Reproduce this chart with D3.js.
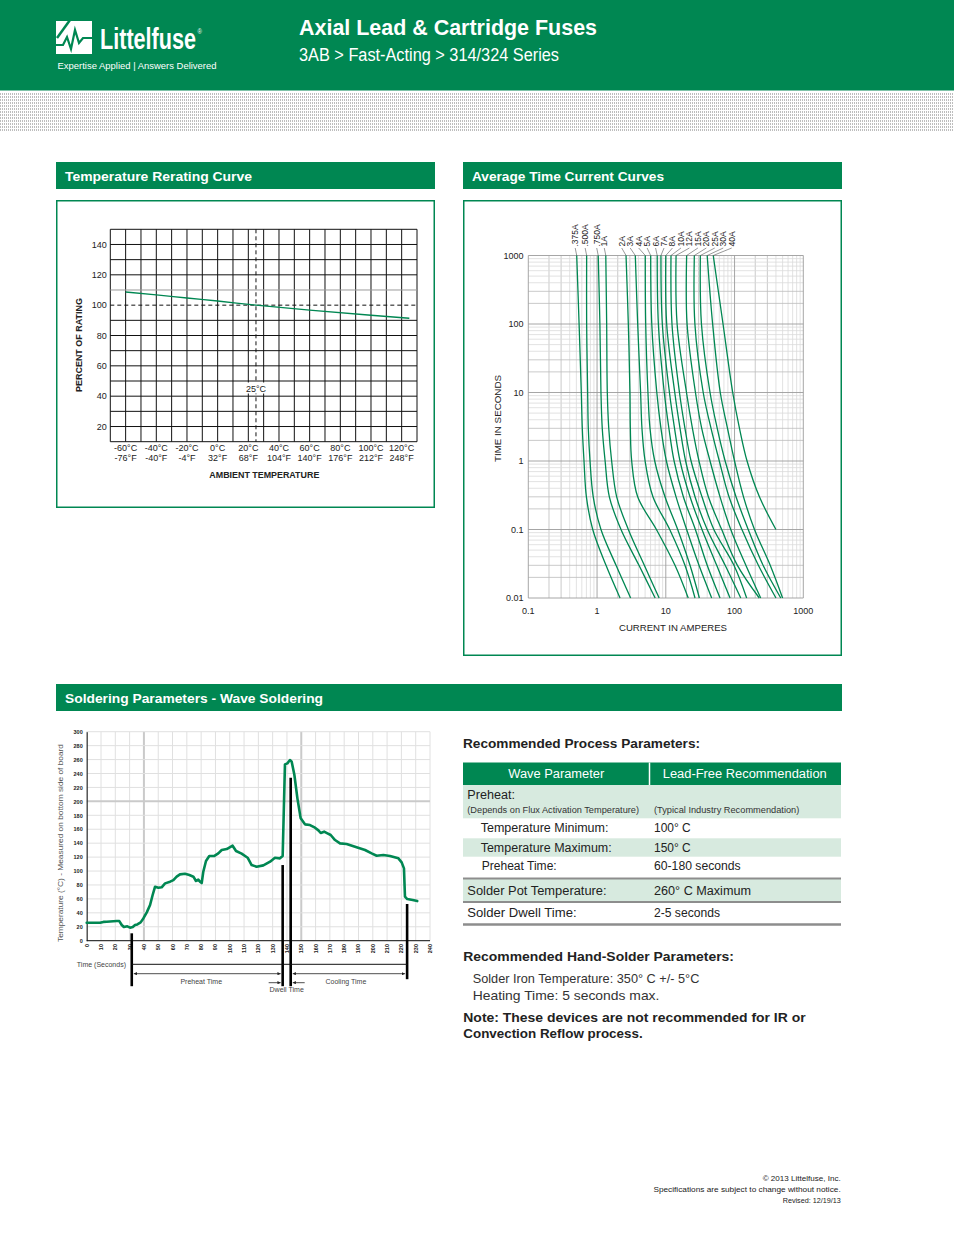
<!DOCTYPE html>
<html>
<head>
<meta charset="utf-8">
<script src="https://cdn.jsdelivr.net/npm/d3@7"></script>
<style>
  body { margin: 0; background: #fff; }
  svg { display: block; font-family: "Liberation Sans", Arial, Helvetica, sans-serif; }
</style>
</head>
<body>
<script>
// ---------- data ----------

// temperature rerating curve
const rerateTemps   = [-60, -40, -20, 0, 25, 60, 100, 125];
const reratePercent = [108.7, 106.8, 104.7, 102.7, 100, 96.7, 93.3, 91.4];
const rerateTicksC  = [-60, -40, -20, 0, 20, 40, 60, 80, 100, 120];
const rerateTicksF  = [-76, -40, -4, 32, 68, 104, 140, 176, 212, 248];
const rerateTicksY  = [20, 40, 60, 80, 100, 120, 140];

// average time current curves: current (A) at each time (s)
const ctTimes = [1000, 100, 10, 3, 1, 0.3, 0.1, 0.03, 0.01];
const fuseRatings = [".375A", ".500A", ".750A", "1A", "2A", "3A", "4A", "5A", "6A",
                     "7A", "8A", "10A", "12A", "15A", "20A", "25A", "30A", "40A"];
const fuseCurrents = [
  [0.506, 0.548, 0.59, 0.61, 0.646, 0.70, 0.865, 1.35, 2.16],
  [0.706, 0.706, 0.73, 0.746, 0.79, 0.88, 1.14, 1.89, 3.08],
  [1.04, 1.10, 1.14, 1.19, 1.31, 1.51, 2.23, 4.07, 7.0],
  [1.34, 1.38, 1.41, 1.48, 1.63, 1.93, 2.85, 4.87, 8.0],
  [2.64, 2.85, 3.01, 3.05, 3.19, 3.9, 7.3, 13.6, 21.2],
  [3.6, 3.9, 4.3, 4.5, 5.0, 6.5, 11.4, 19, 26.6],
  [5.03, 5.1, 5.5, 5.89, 6.9, 9.73, 14.9, 22.5, 30.8],
  [6.03, 6.25, 7.4, 8.5, 10.2, 14.1, 20.1, 30.4, 46.5],
  [7.5, 7.8, 9.5, 11.1, 13.2, 18.0, 26.9, 40, 61.5],
  [8.5, 8.9, 11.3, 13.4, 16.1, 22.5, 33.6, 55, 86],
  [10, 10.3, 13.5, 16.1, 19.4, 26.6, 40, 73, 123],
  [11.9, 12.3, 15.8, 19, 23.3, 33.6, 50, 98, 150],
  [14.1, 14.6, 20, 24.4, 30.4, 41.6, 65, 110, 229],
  [20.1, 20.4, 27, 33.3, 44, 61.5, 88, 146, 240],
  [26, 26.5, 35, 45.5, 60, 83, 128, 222, 400],
  [31.8, 33, 44, 56, 73, 105, 158, 260, 470],
  [40, 48, 62, 79, 100, 135, 195, 330, 500],
  [49, 68, 94, 118, 152, 230, 400, null, null]
];
const ctTicksX = [0.1, 1, 10, 100, 1000];
const ctTicksY = [0.01, 0.1, 1, 10, 100, 1000];

// wave soldering profile
const solderTime = [0, 9.3, 11.7, 14, 21, 22.8, 24.5, 26, 28.4, 30.3, 32.2, 33.8, 35.4, 37.7, 39.6,
  42, 44.3, 46.1, 47.8, 50.1, 52.4, 54.8, 58.3, 60.6, 62.9, 65.2, 68.7, 71.8, 74.6, 76.4, 78,
  79.2, 80.4, 81.5, 83.4, 85.7, 89, 92, 94.4, 97.9, 102, 104.4, 108.3, 112.5, 115.3, 118.8,
  123.5, 128.2, 131.6, 135.1, 137, 138.6, 140.3, 142.1, 143.3, 145.2, 147.3, 149.6, 152.6,
  156.1, 159.6, 162, 163.6, 166, 168.3, 170.6, 173.6, 177.1, 181.7, 187.6, 194.6, 199.2,
  202.7, 207.4, 212, 217.9, 220.2, 221.8, 222.5, 224.1, 227.9, 231.1];
const solderTemp = [25.8, 25.8, 27, 27.3, 28.2, 28.2, 22.5, 19.6, 20.6, 18.7, 19.6, 22.5, 23.4, 26.3, 32,
  40.7, 51.2, 65.6, 77.5, 76, 76.6, 82.3, 84.7, 87, 91.9, 95.2, 96.2, 94.3, 91.9, 85.7, 87.6,
  84.7, 82.8, 99, 114.4, 121.5, 121.5, 125.4, 130.2, 131.6, 136.4, 128.7, 124.9, 119.1, 108.6, 106.2,
  108.1, 113.4, 119.1, 118.2, 121.5, 253.1, 254.6, 259.3, 257, 237.8, 204.3, 175.6, 167,
  166, 162.2, 158.4, 154.6, 156.5, 154.1, 151.7, 144.5, 139.7, 138.8, 134.9, 130.2, 125.4,
  122, 123, 121.5, 118.2, 112.4, 103.8, 63.2, 59.8, 58.4, 56.9];
const solderTicksX = [0, 10, 20, 30, 40, 50, 60, 70, 80, 90, 100, 110, 120, 130, 140, 150,
  160, 170, 180, 190, 200, 210, 220, 230, 240];
const solderTicksY = [0, 20, 40, 60, 80, 100, 120, 140, 160, 180, 200, 220, 240, 260, 280, 300];
const phaseTimes = [31.5, 137, 142.6, 224];     // preheat start, dwell start, dwell end, cooling end
const phaseTops  = [10.6, 108.6, 233.9, 52.7];   // temperature where each marker starts

// ---------- page ----------
const GREEN = "#008752", LIGHT = "#d7eadf";
const svg = d3.select("body").append("svg").attr("width", 954).attr("height", 1235);

function label(g, s, x, y, o = {}) {
  const t = g.append("text")
    .attr("transform", `translate(${x},${y})` + (o.rotate ? ` rotate(${o.rotate})` : ""))
    .attr("font-size", o.size || 9)
    .attr("font-weight", o.weight || "normal")
    .attr("text-anchor", o.anchor || "start")
    .attr("fill", o.fill || "#222")
    .text(s);
  if (o.len) t.attr("textLength", o.len).attr("lengthAdjust", "spacingAndGlyphs");
  return t;
}
function hline(g, x1, x2, y, stroke, w, dash) {
  const l = g.append("line").attr("x1", x1).attr("x2", x2).attr("y1", y).attr("y2", y)
    .attr("stroke", stroke).attr("stroke-width", w);
  if (dash) l.attr("stroke-dasharray", dash);
  return l;
}
function vline(g, x, y1, y2, stroke, w, dash) {
  const l = g.append("line").attr("x1", x).attr("x2", x).attr("y1", y1).attr("y2", y2)
    .attr("stroke", stroke).attr("stroke-width", w);
  if (dash) l.attr("stroke-dasharray", dash);
  return l;
}

const defs = svg.append("defs");
const pat = defs.append("pattern").attr("id", "dots").attr("patternUnits", "userSpaceOnUse")
  .attr("width", 2).attr("height", 3);
pat.append("rect").attr("width", 1).attr("height", 2).attr("fill", "#bdbdbd");
defs.append("marker").attr("id", "arr").attr("viewBox", "0 0 6 6").attr("refX", 6).attr("refY", 3)
  .attr("markerWidth", 4).attr("markerHeight", 4).attr("orient", "auto-start-reverse")
  .append("path").attr("d", "M0,0L6,3L0,6Z").attr("fill", "#222");

// header
svg.append("rect").attr("width", 954).attr("height", 90.5).attr("fill", GREEN);
svg.append("rect").attr("y", 92).attr("width", 954).attr("height", 40).attr("fill", "url(#dots)");

const logo = svg.append("g");
logo.append("rect").attr("x", 56).attr("y", 21).attr("width", 36).attr("height", 33).attr("fill", "#fff");
logo.append("line").attr("x1", 57).attr("y1", 38).attr("x2", 70).attr("y2", 20)
  .attr("stroke", GREEN).attr("stroke-width", 2.5);
logo.append("polyline")
  .attr("points", "56,45 63,45 67,37 71,49 75,30 79,43 83,38 92,38")
  .attr("fill", "none").attr("stroke", GREEN).attr("stroke-width", 2.2);
// wordmark: condensed by a horizontal scale, registered mark as a superscript tspan
const mark = svg.append("text")
  .attr("transform", "translate(100,48.5) scale(0.745,1)")
  .attr("font-size", 29).attr("font-weight", "bold").attr("fill", "#fff");
mark.append("tspan").text("Littelfuse");
mark.append("tspan").attr("font-size", 8).attr("font-weight", "normal").attr("dx", 2).attr("dy", -15).text("®");
label(svg, "Expertise Applied  |  Answers Delivered", 57.5, 69, { size: 9, fill: "#fff", len: 159 });
label(svg, "Axial Lead & Cartridge Fuses", 299, 35, { size: 22, weight: "bold", fill: "#fff", len: 298 });
label(svg, "3AB > Fast-Acting > 314/324 Series", 299, 60.5, { size: 18, fill: "#fff", len: 260 });

// section bars
function bar(x, w, y, title, len) {
  svg.append("rect").attr("x", x).attr("y", y).attr("width", w).attr("height", 27).attr("fill", GREEN);
  label(svg, title, x + 9, y + 19, { size: 13, weight: "bold", fill: "#fff", len: len });
}
bar(56, 379, 162, "Temperature Rerating Curve", 187);
bar(463, 379, 162, "Average Time Current Curves", 192);
bar(56, 786, 684, "Soldering Parameters - Wave Soldering", 258);

svg.append("rect").attr("x", 56.75).attr("y", 200.75).attr("width", 377.5).attr("height", 306.5)
  .attr("fill", "none").attr("stroke", GREEN).attr("stroke-width", 1.5);
svg.append("rect").attr("x", 463.75).attr("y", 200.75).attr("width", 377.5).attr("height", 454.5)
  .attr("fill", "none").attr("stroke", GREEN).attr("stroke-width", 1.5);

// ---------- temperature rerating curve ----------
{
  const g = svg.append("g");
  const tx = d3.scaleLinear().domain([-70, 130]).range([110.3, 417]);
  const ty = d3.scaleLinear().domain([10, 150]).range([441.7, 229.3]);

  d3.range(-70, 131, 10).forEach(v => vline(g, tx(v), ty(150), ty(10), "#111", 1));
  d3.range(10, 151, 10).filter(v => v !== 100).forEach(v =>
    hline(g, tx(-70), tx(130), ty(v), v === 110 ? "#9a9a9a" : "#111", 1));
  hline(g, tx(-70), tx(130), ty(100), "#111", 1, "4,3");
  vline(g, tx(25), ty(150), ty(10), "#111", 1, "4,3");

  g.append("path")
    .datum(rerateTemps.map((t, i) => [t, reratePercent[i]]))
    .attr("d", d3.line().x(d => tx(d[0])).y(d => ty(d[1])).curve(d3.curveMonotoneX))
    .attr("fill", "none").attr("stroke", GREEN).attr("stroke-width", 1.4);

  g.append("rect").attr("x", tx(25) - 11).attr("y", 382.5).attr("width", 22).attr("height", 11).attr("fill", "#fff");
  label(g, "25°C", tx(25), 391.5, { size: 9, anchor: "middle" });

  rerateTicksY.forEach(v => label(g, v, 106.7, ty(v) + 3.2, { size: 9, anchor: "end" }));
  rerateTicksC.forEach((c, i) => {
    label(g, c + "°C", tx(c), 450.7, { size: 9, anchor: "middle" });
    label(g, rerateTicksF[i] + "°F", tx(c), 460.7, { size: 9, anchor: "middle" });
  });
  label(g, "PERCENT OF RATING", 81.5, 345, { size: 8.5, weight: "bold", anchor: "middle", rotate: -90, len: 94 });
  label(g, "AMBIENT TEMPERATURE", 264.3, 478, { size: 8.5, weight: "bold", anchor: "middle", len: 110 });
}

// ---------- average time current curves ----------
{
  const g = svg.append("g");
  const cx = d3.scaleLog().domain([0.1, 1000]).range([528.3, 803.3]);
  const cy = d3.scaleLog().domain([0.01, 1000]).range([598, 255.5]);
  const gridVals = (lo, hi) => {
    const out = [];
    for (let d = lo; d < hi * 0.99; d *= 10) for (let m = 1; m < 10; m++) out.push({ v: m * d, m });
    out.push({ v: hi, m: 1 });
    return out;
  };
  const gc = m => (m === 1 ? "#9c9c9c" : m <= 3 ? "#bdbdbd" : "#dadada");
  gridVals(0.1, 1000).filter(d => d.m !== 1).forEach(d => vline(g, cx(d.v), cy(1000), cy(0.01), gc(d.m), 0.8));
  gridVals(0.01, 1000).filter(d => d.m !== 1).forEach(d => hline(g, cx(0.1), cx(1000), cy(d.v), gc(d.m), 0.8));
  gridVals(0.1, 1000).filter(d => d.m === 1).forEach(d => vline(g, cx(d.v), cy(1000), cy(0.01), gc(1), 0.9));
  gridVals(0.01, 1000).filter(d => d.m === 1).forEach(d => hline(g, cx(0.1), cx(1000), cy(d.v), gc(1), 0.9));

  const line = d3.line().defined(d => d[0] != null)
    .x(d => cx(d[0])).y(d => cy(d[1])).curve(d3.curveCatmullRom.alpha(0.5));
  g.selectAll("path.fuse").data(fuseCurrents).join("path").attr("class", "fuse")
    .attr("d", row => line(row.map((I, k) => [I, ctTimes[k]])))
    .attr("fill", "none").attr("stroke", GREEN).attr("stroke-width", 1.3);

  // rating labels with leader lines
  const x0 = cx(fuseCurrents[4][0]) - 4.3, step = 8.46;
  fuseRatings.forEach((r, i) => {
    const top = cx(fuseCurrents[i][0]);
    const lx = i < 4 ? top - 1.5 : x0 + (i - 4) * step;
    g.append("line").attr("x1", lx).attr("y1", 248).attr("x2", top).attr("y2", cy(1000))
      .attr("stroke", "#333").attr("stroke-width", 0.5);
    label(g, r, lx + 3, 246.5, { size: 8.5, rotate: -90 });
  });

  ctTicksY.forEach(v => label(g, v, 523.5, cy(v) + 3.2, { size: 9, anchor: "end" }));
  ctTicksX.forEach(v => label(g, v, cx(v), 614, { size: 9, anchor: "middle" }));
  label(g, "CURRENT IN AMPERES", 673, 631, { size: 9.5, anchor: "middle", len: 108 });
  label(g, "TIME IN SECONDS", 501, 418.5, { size: 9.5, anchor: "middle", rotate: -90, len: 87 });
}

// ---------- wave soldering profile ----------
{
  const g = svg.append("g");
  const sx = d3.scaleLinear().domain([0, 240]).range([86.7, 430]);
  const sy = d3.scaleLinear().domain([0, 300]).range([940.7, 731.7]);

  solderTicksX.forEach(v => vline(g, sx(v), sy(300), sy(0),
    v === 40 || v === 150 ? "#cacaca" : "#e0e0e0", v === 40 || v === 150 ? 2 : 1));
  solderTicksY.forEach(v => hline(g, sx(0), sx(240), sy(v),
    v === 200 ? "#cacaca" : "#e0e0e0", v === 200 ? 2 : 1));

  g.append("g").attr("transform", `translate(${sx(0)},0)`)
    .call(d3.axisLeft(sy).tickValues(solderTicksY).tickSize(0).tickSizeOuter(0).tickPadding(4))
    .call(a => a.select(".domain").attr("stroke", "#111"))
    .selectAll("text").attr("font-size", 5.5).attr("font-weight", "bold").attr("fill", "#222")
    .attr("font-family", "Liberation Sans, Arial, sans-serif");
  hline(g, sx(0), sx(240), sy(0), "#111", 1);
  solderTicksX.forEach(v => label(g, v, sx(v) + 2, 944, { size: 5.5, weight: "bold", anchor: "end", rotate: -90 }));

  label(g, "Temperature (°C) - Measured on bottom side of board", 62.5, 843, {
    size: 7.5, anchor: "middle", rotate: -90, fill: "#555", len: 198 });

  g.append("path")
    .datum(solderTime.map((t, i) => [t, solderTemp[i]]))
    .attr("d", d3.line().x(d => sx(d[0])).y(d => sy(d[1])))
    .attr("fill", "none").attr("stroke", GREEN).attr("stroke-width", 2.6)
    .attr("stroke-linejoin", "round").attr("stroke-linecap", "round");

  // phase markers and annotations below the axis
  const extend = [45.5, 45.5, 45.5, 38.5];
  phaseTimes.forEach((t, i) => vline(g, sx(t), sy(phaseTops[i]), sy(0) + extend[i], "#000", 2.6));
  const [p0, p1, p2, p3] = phaseTimes.map(sx);
  const yA = sy(0) + 23.6, yB = sy(0) + 33, yC = sy(0) + 42;
  hline(g, p0, p3, yA, "#111", 1);
  label(g, "Time (Seconds)", 126, yA + 2.5, { size: 7, anchor: "end", fill: "#444" });
  hline(g, p0 + 2, p1 - 2, yB, "#222", 0.8).attr("marker-start", "url(#arr)").attr("marker-end", "url(#arr)");
  hline(g, p2 + 2, p3 - 2, yB, "#222", 0.8).attr("marker-start", "url(#arr)").attr("marker-end", "url(#arr)");
  label(g, "Preheat Time", (p0 + p1) / 2 - 6, yB + 10.5, { size: 7, anchor: "middle", fill: "#444" });
  label(g, "Cooling Time", (p2 + p3) / 2 - 3, yB + 10.5, { size: 7, anchor: "middle", fill: "#444" });
  hline(g, p1 - 14, p1 - 2, yC, "#222", 0.8).attr("marker-end", "url(#arr)");
  hline(g, p2 + 14, p2 + 2, yC, "#222", 0.8).attr("marker-end", "url(#arr)");
  label(g, "Dwell Time", (p1 + p2) / 2, yC + 9.5, { size: 7, anchor: "middle", fill: "#444" });
}

// ---------- recommended process parameters table ----------
{
  const g = svg.append("g");
  const X0 = 463, X1 = 841, XC = 649.5, VX = 654;
  label(g, "Recommended Process Parameters:", 463, 747.5, { size: 13, weight: "bold", len: 237 });

  g.append("rect").attr("x", X0).attr("y", 762.5).attr("width", X1 - X0).attr("height", 22.5).attr("fill", GREEN);
  vline(g, XC, 762.5, 785, "#fff", 1.5);
  label(g, "Wave Parameter", (X0 + XC) / 2, 778, { size: 12, fill: "#fff", anchor: "middle", len: 96 });
  label(g, "Lead-Free Recommendation", (XC + X1) / 2 - 0.5, 778, { size: 12, fill: "#fff", anchor: "middle", len: 164 });

  [[785, 33.3], [838.3, 18.4], [879, 22]].forEach(([y, h]) =>
    g.append("rect").attr("x", X0).attr("y", y).attr("width", X1 - X0).attr("height", h).attr("fill", LIGHT));
  hline(g, X0, X1, 878.5, "#8d8d8d", 2);
  hline(g, X0, X1, 902, "#8d8d8d", 2);
  hline(g, X0, X1, 924.5, "#8d8d8d", 2.5);

  label(g, "Preheat:", 467.3, 798.5, { size: 12.5, len: 47.7 });
  label(g, "(Depends on Flux Activation Temperature)", 467.3, 812.5, { size: 8.5, len: 171.7, fill: "#333" });
  label(g, "(Typical Industry Recommendation)", VX, 812.5, { size: 8.5, len: 145.3, fill: "#333" });
  label(g, "Temperature Minimum:", 480.7, 832, { size: 12, len: 127.7 });
  label(g, "100° C", VX, 832, { size: 12, len: 36.7 });
  label(g, "Temperature Maximum:", 480.7, 851.5, { size: 12, len: 131 });
  label(g, "150° C", VX, 851.5, { size: 12, len: 36.7 });
  label(g, "Preheat Time:", 481.7, 870, { size: 12, len: 75 });
  label(g, "60-180 seconds", VX, 870, { size: 12, len: 86.7 });
  label(g, "Solder Pot Temperature:", 467.3, 894.5, { size: 12.5, len: 139.3 });
  label(g, "260° C Maximum", VX, 894.5, { size: 12.5, len: 97 });
  label(g, "Solder Dwell Time:", 467.3, 917, { size: 12.5, len: 109.3 });
  label(g, "2-5 seconds", VX, 917, { size: 12.5, len: 66 });

  label(g, "Recommended Hand-Solder Parameters:", 463.3, 961, { size: 13, weight: "bold", len: 270.7 });
  label(g, "Solder Iron Temperature: 350° C +/- 5°C", 472.7, 983.3, { size: 13, fill: "#333", len: 226.7 });
  label(g, "Heating Time: 5 seconds max.", 472.7, 1000, { size: 13, fill: "#333", len: 186.7 });
  label(g, "Note: These devices are not recommended for IR or", 463.3, 1022, { size: 13, weight: "bold", len: 342.3 });
  label(g, "Convection Reflow process.", 463.3, 1038, { size: 13, weight: "bold", len: 179.3 });
}

// ---------- footer ----------
label(svg, "© 2013 Littelfuse, Inc.", 840.7, 1181, { size: 8, anchor: "end", len: 78 });
label(svg, "Specifications are subject to change without notice.", 840.7, 1192, { size: 8, anchor: "end", len: 187.3 });
label(svg, "Revised: 12/19/13", 840.7, 1202.5, { size: 8, anchor: "end", len: 58 });
</script>
</body>
</html>
